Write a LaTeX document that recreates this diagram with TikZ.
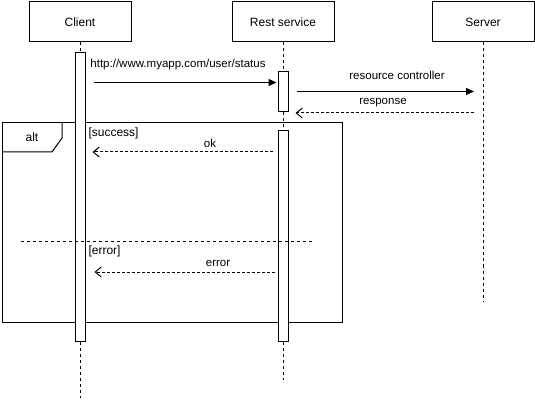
\documentclass[tikz,border=0pt]{standalone}
\usepackage{fontspec}
\setmainfont{Liberation Sans}
\usetikzlibrary{positioning}
\usetikzlibrary{calc,arrows.meta}

\begin{document}
\begin{tikzpicture}[x=1pt,y=-1pt,line width=1pt,
    every node/.style={font=\fontsize{11.5}{13}\selectfont},
    actor/.style={draw,minimum width=102pt,minimum height=40pt,font=\fontsize{12}{14}\selectfont},
    activation/.style={draw,fill=white,minimum width=10pt,inner sep=0pt,anchor=north},
    lifeline/.style={dash pattern=on 3pt off 3pt},
    call/.style={-{Triangle[length=8pt,width=7pt]}},
    reply/.style={dash pattern=on 3pt off 2pt,-{Straight Barb[length=6pt,width=10pt]}},
    guard/.style={anchor=west,inner sep=1pt,font=\fontsize{12}{14}\selectfont}]
  \useasboundingbox (0,0) rectangle (535,403);

  \node[actor] (Client) at (80,22)  {Client};
  \node[actor] (Rest)   at (283,22) {Rest service};
  \node[actor] (Server) at (483,22) {Server};

  \coordinate (ClientEnd) at (80,398);
  \coordinate (RestEnd)   at (283,380);
  \coordinate (ServerEnd) at (483,302);

  % alt frame
  \node[draw,anchor=north west,minimum width=340pt,minimum height=200pt,inner sep=0pt] (Alt) at (2,122) {};
  \draw ($(Alt.north west)+(0,30)$) -- ($(Alt.north west)+(50,30)$)
     -- ($(Alt.north west)+(60,16)$) -- ($(Alt.north west)+(60,0)$);
  \node[font=\fontsize{12}{14}\selectfont] (AltLbl) at (32,137) {alt};

  % activations
  \node[activation,minimum height=289pt] (ClientAct) at (80,52)  {};
  \node[activation,minimum height=40pt]  (RestAct1)  at (283,71) {};
  \node[activation,minimum height=211pt] (RestAct2)  at (283,130) {};

  % lifelines
  \draw[lifeline] (Client.south) -- (ClientAct.north);
  \draw[lifeline] (ClientAct.south) -- (ClientEnd);
  \draw[lifeline] (Rest.south) -- (RestAct1.north);
  \draw[lifeline] (RestAct1.south) -- (RestAct2.north);
  \draw[lifeline] (RestAct2.south) -- (RestEnd);
  \draw[lifeline] (Server.south) -- (ServerEnd);

  \draw[dash pattern=on 3pt off 3pt] ($(Alt.north west)+(19,120)$) -- ($(Alt.north east)+(-30,120)$);
  \node[guard] (Success) at (87,133) {[success]};
  \node[guard] (Error)   at (87,251) {[error]};

  % messages
  \draw[call] ($(ClientAct.east |- RestAct1.west)+(8,-9)$) -- ($(RestAct1.west)+(-1,-9)$);
  \node (HttpLbl) at (178,65) {http://www.myapp.com/user/status};

  \draw[call] ($(RestAct1.east)+(8,0)$) -- ($(RestAct1.east -| Server.south)+(-9,0)$);
  \node (ResLbl) at (397,75) {resource controller};

  \draw[reply] ($(RestAct1.south -| Server.south)+(-9,1)$) -- ($(RestAct1.south east)+(7,1)$);
  \node (RespLbl) at (383,103) {response};

  \draw[reply] ($(RestAct2.north west)+(-5,22)$) -- ($(ClientAct.east |- RestAct2.north)+(7,22)$);
  \node (OkLbl) at (210,143) {ok};

  \draw[reply] ($(RestAct2.north west)+(-3,142)$) -- ($(ClientAct.east |- RestAct2.north)+(9,142)$);
  \node (ErrLbl) at (218,263) {error};
\end{tikzpicture}
\end{document}
